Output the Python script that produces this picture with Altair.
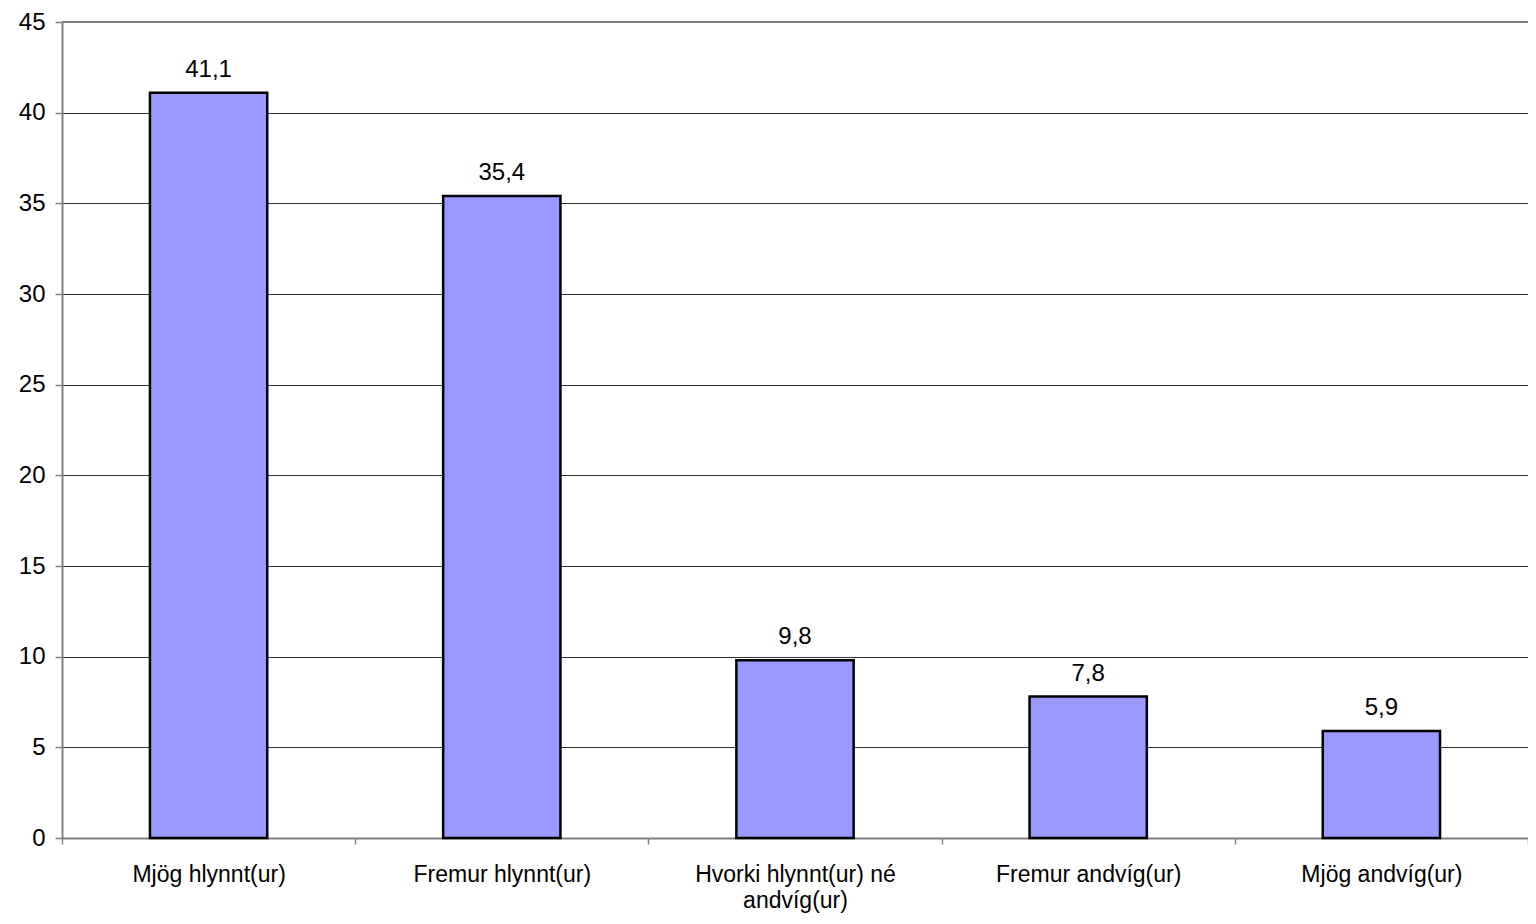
import altair as alt
import pandas as pd

categories = [
    "Mjög hlynnt(ur)",
    "Fremur hlynnt(ur)",
    "Hvorki hlynnt(ur) né andvíg(ur)",
    "Fremur andvíg(ur)",
    "Mjög andvíg(ur)",
]
values = [41.1, 35.4, 9.8, 7.8, 5.9]
y_ticks = [0, 5, 10, 15, 20, 25, 30, 35, 40, 45]
y_max = 45

df = pd.DataFrame({"cat": categories, "val": values})

FONT = "Liberation Sans"
FS = 24

x_enc = alt.X(
    "cat:N",
    sort=categories,
    title=None,
    scale=alt.Scale(paddingInner=0, paddingOuter=0),
    axis=alt.Axis(
        labelAngle=0,
        tickBand="extent",
        labelFont=FONT,
        labelFontSize=23,
        labelColor="black",
        labelPadding=19,
        labelBaseline="top",
        labelLineHeight=26,
        labelLimit=400,
        labelExpr="datum.label == 'Hvorki hlynnt(ur) né andvíg(ur)' ? ['Hvorki hlynnt(ur) né', 'andvíg(ur)'] : datum.label",
        domainColor="#808080",
        domainWidth=2,
        tickColor="#808080",
        tickWidth=1.5,
        tickSize=6,
        grid=False,
    ),
)

y_enc = alt.Y(
    "val:Q",
    title=None,
    scale=alt.Scale(domain=[0, y_max], nice=False),
    axis=alt.Axis(
        values=y_ticks,
        grid=True,
        gridColor="#333333",
        gridWidth=1,
        labelFont=FONT,
        labelFontSize=FS,
        labelColor="black",
        labelPadding=10,
        domainColor="#808080",
        domainWidth=2,
        tickColor="#808080",
        tickWidth=1.5,
        tickSize=7,
    ),
)

base = alt.Chart(df)

bars = base.mark_bar(
    color="#9999FF", stroke="black", strokeWidth=2.5,
    width=alt.RelativeBandSize(0.4),
).encode(x=x_enc, y=y_enc)

labels = base.transform_calculate(
    lbl="replace(format(datum.val, '.1f'), '.', ',')"
).mark_text(
    dy=-16, baseline="alphabetic", fontSize=FS, font=FONT, color="black"
).encode(
    x=alt.X("cat:N", sort=categories),
    y=alt.Y("val:Q"),
    text="lbl:N",
)

top_rule = alt.Chart(df).mark_rule(color="#808080", strokeWidth=2).encode(
    y=alt.datum(y_max)
)

chart = (
    alt.layer(bars, labels, top_rule)
    .properties(
        width=1466,
        height=816,
        autosize=alt.AutoSizeParams(type="none"),
        padding={"left": 54, "top": 14, "right": 0, "bottom": 78},
    )
    .configure_view(stroke=None)
)

chart.save("out.html", embed_options={"renderer": "svg", "actions": False})
